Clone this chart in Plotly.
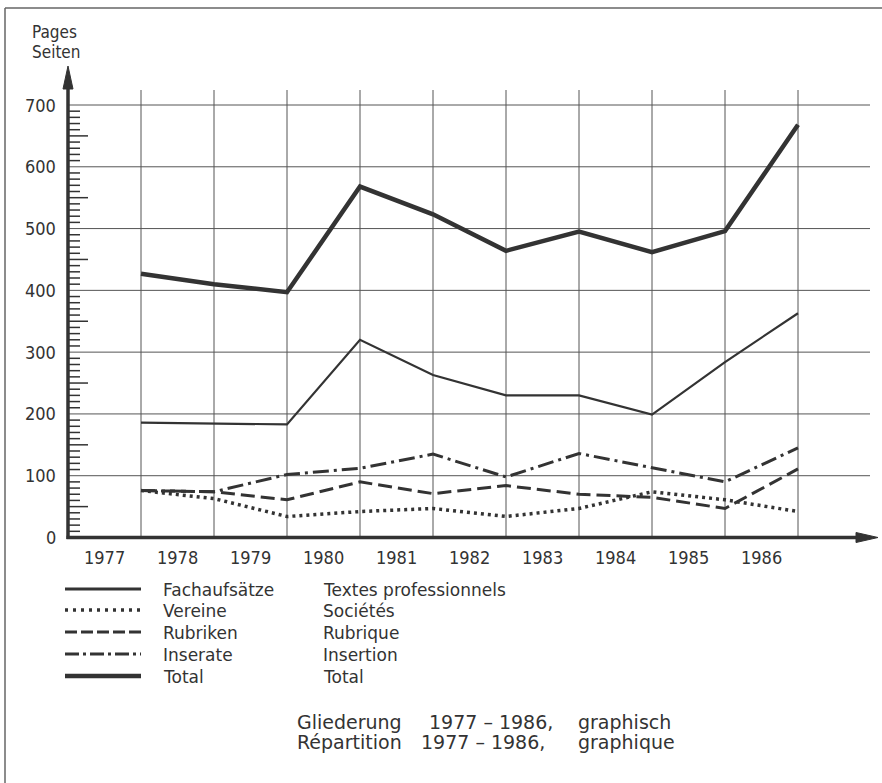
import plotly.graph_objects as go

# ---------------- data ----------------
years = [1977, 1978, 1979, 1980, 1981, 1982, 1983, 1984, 1985, 1986]
total = [427, 410, 397, 568, 523, 464, 495, 462, 496, 668]
fachaufsaetze = [186, 184, 183, 320, 263, 230, 230, 199, 284, 363]
vereine = [76, 63, 34, 42, 47, 34, 47, 74, 61, 42]
rubriken = [76, 74, 61, 90, 71, 84, 70, 65, 47, 111]
inserate = [76, 74, 102, 112, 135, 98, 136, 113, 90, 145]
y_ticks = [0, 100, 200, 300, 400, 500, 600, 700]
legend_de = ["Fachaufsätze", "Vereine", "Rubriken", "Inserate", "Total"]
legend_fr = ["Textes professionnels", "Sociétés", "Rubrique", "Insertion", "Total"]

# ---------------- geometry ----------------
W, H = 882, 783
ML, MR, MT, MB = 20, 0, 40, 213
PW, PH = W - ML - MR, H - MT - MB
AX_X, AX_Y = 68, 537.5          # pixel of axis origin
XUNIT = 73.0                    # px per year
YUNIT = (537.5 - 105) / 700.0   # px per page

def xv(p):   # pixel x -> data x
    return years[0] + (p - AX_X) / XUNIT

def yv(p):   # pixel y -> data y
    return (AX_Y - p) / YUNIT

def px(p):   # pixel x -> paper
    return (p - ML) / PW

def py(p):   # pixel y -> paper
    return (MT + PH - p) / PH

INK = "#333333"
GRID = "#555555"
NARROW = "Liberation Sans Narrow, Arial Narrow, DejaVu Sans Condensed, Roboto Condensed, Liberation Sans, sans-serif"
SANS = "DejaVu Sans, Verdana, sans-serif"

fig = go.Figure()

xs = [y + 1 for y in years]   # value of a year is plotted at the end of its interval
series = [
    ("Fachaufsätze", fachaufsaetze, dict(width=2.2, dash="solid")),
    ("Vereine", vereine, dict(width=3.5, dash="3px,4px")),
    ("Rubriken", rubriken, dict(width=3, dash="14px,6px")),
    ("Inserate", inserate, dict(width=3, dash="16px,5px,3px,5px")),
    ("Total", total, dict(width=4.5, dash="solid")),
]
for name, vals, st in series:
    fig.add_trace(go.Scatter(x=xs, y=vals, mode="lines", name=name,
                             line=dict(color=INK, width=st["width"], dash=st["dash"]),
                             showlegend=False, hoverinfo="x+y+name"))

shapes = []
# horizontal grid lines
for t in y_ticks[1:]:
    shapes.append(dict(type="line", xref="x", yref="y", x0=xv(AX_X), x1=xv(870), y0=t, y1=t,
                       line=dict(color=GRID, width=1), layer="below"))
# vertical grid lines
for y in years:
    shapes.append(dict(type="line", xref="x", yref="y", x0=y + 1, x1=y + 1, y0=0, y1=yv(90),
                       line=dict(color=GRID, width=1), layer="below"))
# minor ticks on y axis
for v in range(10, 700, 10):
    if v % 100 == 0:
        continue
    length = 20 if v % 50 == 0 else 12
    shapes.append(dict(type="line", xref="paper", yref="y", x0=px(AX_X), x1=px(AX_X + length),
                       y0=v, y1=v, line=dict(color=INK, width=1.5)))
# y axis + arrow
shapes.append(dict(type="line", xref="paper", yref="paper", x0=px(AX_X), x1=px(AX_X),
                   y0=py(AX_Y + 1.5), y1=py(85), line=dict(color=INK, width=3.5)))
shapes.append(dict(type="path", xref="paper", yref="paper",
                   path=f"M {px(AX_X-5)} {py(89)} L {px(AX_X)} {py(66)} L {px(AX_X+5)} {py(89)} Z",
                   fillcolor=INK, line=dict(color=INK, width=1)))
# x axis + arrow
shapes.append(dict(type="line", xref="paper", yref="paper", x0=px(AX_X - 1.5), x1=px(860),
                   y0=py(AX_Y), y1=py(AX_Y), line=dict(color=INK, width=3.5)))
shapes.append(dict(type="path", xref="paper", yref="paper",
                   path=f"M {px(856)} {py(AX_Y-5)} L {px(878)} {py(AX_Y)} L {px(856)} {py(AX_Y+5)} Z",
                   fillcolor=INK, line=dict(color=INK, width=1)))
# outer frame (top and left edges)
shapes.append(dict(type="line", xref="paper", yref="paper", x0=px(5), x1=px(882), y0=py(8), y1=py(8),
                   line=dict(color="#666666", width=1.5)))
shapes.append(dict(type="line", xref="paper", yref="paper", x0=px(5), x1=px(5), y0=py(8), y1=py(783),
                   line=dict(color="#666666", width=1.5)))

# legend samples
leg_rows = [589, 610, 632, 654, 676]
leg_dash = ["solid", "3px,5px", "12px,4px", "14px,4px,3px,4px", "solid"]
leg_width = [3, 3.5, 3, 3, 4.5]
for ry, dsh, lw in zip(leg_rows, leg_dash, leg_width):
    shapes.append(dict(type="line", xref="paper", yref="paper", x0=px(65), x1=px(141),
                       y0=py(ry), y1=py(ry), line=dict(color=INK, width=lw, dash=dsh)))

annotations = []
# y tick labels
for t in y_ticks:
    annotations.append(dict(xref="paper", yref="y", x=px(58), y=t, text=str(t), showarrow=False,
                            xanchor="right", yanchor="middle", font=dict(family=NARROW, size=18, color=INK)))
# year labels
for y in years:
    annotations.append(dict(xref="x", yref="paper", x=y + 0.5, y=py(557), text=str(y), showarrow=False,
                            xanchor="center", yanchor="middle", font=dict(family=NARROW, size=18, color=INK)))
# axis title
for txt, cy in [("Pages", 32), ("Seiten", 52)]:
    annotations.append(dict(xref="paper", yref="paper", x=px(30), y=py(cy), text=txt, showarrow=False,
                            xanchor="left", yanchor="middle", font=dict(family=NARROW, size=17, color=INK)))
# legend text
for de, fr, ry in zip(legend_de, legend_fr, leg_rows):
    annotations.append(dict(xref="paper", yref="paper", x=px(161), y=py(ry + 1), text=de, showarrow=False,
                            xanchor="left", yanchor="middle", font=dict(family=SANS, size=17, color=INK)))
    annotations.append(dict(xref="paper", yref="paper", x=px(321), y=py(ry + 1), text=fr, showarrow=False,
                            xanchor="left", yanchor="middle", font=dict(family=SANS, size=17, color=INK)))
# caption
caption = [
    ("Gliederung", 295, 722), ("1977 – 1986,", 427, 722), ("graphisch", 576, 722),
    ("Répartition", 295, 742), ("1977 – 1986,", 419, 742), ("graphique", 576, 742),
]
for txt, cx, cy in caption:
    annotations.append(dict(xref="paper", yref="paper", x=px(cx), y=py(cy), text=txt, showarrow=False,
                            xanchor="left", yanchor="middle", font=dict(family=SANS, size=19, color=INK)))

fig.update_layout(
    width=W, height=H,
    margin=dict(l=ML, r=MR, t=MT, b=MB),
    paper_bgcolor="white", plot_bgcolor="white",
    xaxis=dict(range=[xv(ML), xv(W - MR)], visible=False, fixedrange=True),
    yaxis=dict(range=[yv(MT + PH), yv(MT)], visible=False, fixedrange=True),
    shapes=shapes, annotations=annotations, showlegend=False,
)

fig.write_html("out.html", config={"displayModeBar": False},
               post_script="document.body.style.margin='0px';document.body.style.overflow='hidden';")
